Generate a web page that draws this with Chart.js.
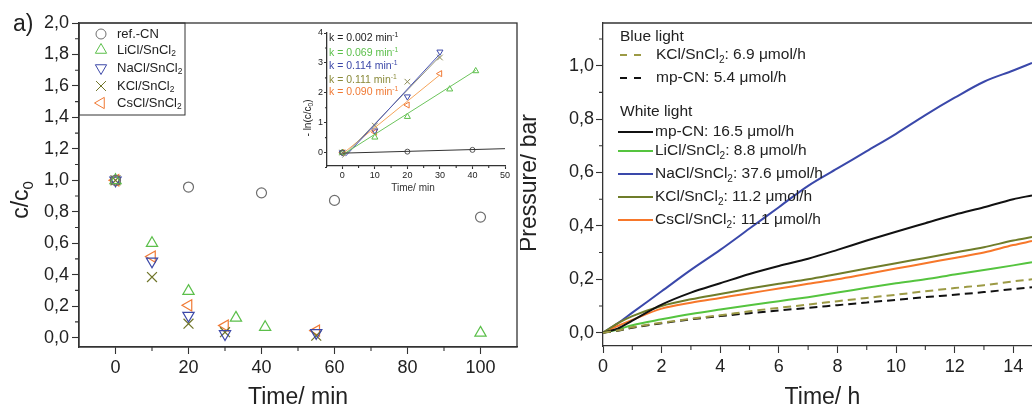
<!DOCTYPE html>
<html lang="en">
<head>
<meta charset="UTF-8" />
<title>Photocatalytic degradation and H2 evolution</title>
<script src="https://cdn.jsdelivr.net/npm/chart.js@4.4.1/dist/chart.umd.min.js"></script>
<style>
  html, body { margin: 0; padding: 0; background: #fff; overflow: hidden; }
  #wrap { position: relative; width: 1032px; height: 412px; }
  canvas { position: absolute; }
</style>
</head>
<body>
<div id="wrap">
  <canvas id="chartA" width="530" height="412" style="left:0;top:0"></canvas>
  <canvas id="chartB" width="512" height="412" style="left:520px;top:0"></canvas>
  <canvas id="inset" width="225" height="185" style="left:290px;top:20px"></canvas>
</div>
<script>
// ---------- panel a: c/c0 vs time ----------
const aLabels = ['ref.-CN', 'LiCl/SnCl₂', 'NaCl/SnCl₂', 'KCl/SnCl₂', 'CsCl/SnCl₂'];
const aTimeRef = [0, 20, 40, 60, 100];
const aRef = [1.0, 0.957, 0.92, 0.872, 0.766];
const aTimeLi = [0, 10, 20, 33, 41, 100];
const aLi = [1.0, 0.6, 0.295, 0.125, 0.066, 0.03];
const aTimeNa = [0, 10, 20, 30, 55];
const aNa = [1.0, 0.485, 0.14, 0.023, 0.03];
const aTimeK = [0, 10, 20, 30, 55];
const aK = [1.0, 0.385, 0.088, 0.034, 0.012];
const aTimeCs = [0, 10, 20, 30, 55];
const aCs = [1.0, 0.515, 0.205, 0.076, 0.044];
const aXTicks = [0, 20, 40, 60, 80, 100];
const aXMinor = [10, 30, 50, 70, 90];
const aYTicks = [0, 0.2, 0.4, 0.6, 0.8, 1.0, 1.2, 1.4, 1.6, 1.8, 2.0];
const aYMinor = [0.1, 0.3, 0.5, 0.7, 0.9, 1.1, 1.3, 1.5, 1.7, 1.9];

// ---------- inset: -ln(c/c0) vs time ----------
const inTimeRef = [0, 20, 40];
const inRef = [0, 0.03, 0.09];
const inTimeLi = [0, 10, 20, 33, 41];
const inLi = [0, 0.51, 1.2, 2.12, 2.73];
const inTimeNa = [0, 10, 20, 30];
const inNa = [0, 0.73, 1.87, 3.37];
const inTimeK = [0, 10, 20, 30];
const inK = [0, 0.9, 2.37, 3.18];
const inTimeCs = [0, 10, 20, 30];
const inCs = [0, 0.68, 1.59, 2.64];
// fitted lines (end points)
const fitRefT = [0, 50], fitRef = [-0.02, 0.13];
const fitLiT = [0, 41], fitLi = [-0.08, 2.75];
const fitNaT = [1, 30], fitNa = [-0.12, 3.3];
const fitKT = [0, 30], fitK = [-0.17, 3.22];
const fitCsT = [0, 30], fitCs = [-0.05, 2.6];
const kLabels = ['k = 0.002 min⁻¹', 'k = 0.069 min⁻¹', 'k = 0.114 min⁻¹', 'k = 0.111 min⁻¹', 'k = 0.090 min⁻¹'];
const inXTicks = [0, 10, 20, 30, 40, 50];
const inXMinor = [5, 15, 25, 35, 45];
const inYTicks = [0, 1, 2, 3, 4];
const inYMinor = [-0.5, 0.5, 1.5, 2.5, 3.5];

// ---------- panel b: pressure vs time ----------
const tHours = [0, 0.5, 1, 2, 3, 4, 5, 6, 7, 8, 9, 10, 11, 12, 13, 14, 14.64];
const blueKCl = [0, 0.008, 0.02, 0.037, 0.052, 0.065, 0.08, 0.093, 0.105, 0.118, 0.13, 0.142, 0.155, 0.167, 0.178, 0.192, 0.2];
const blueMpCN = [0, 0.007, 0.018, 0.035, 0.05, 0.062, 0.073, 0.083, 0.093, 0.103, 0.113, 0.123, 0.133, 0.142, 0.152, 0.163, 0.17];
const whiteMpCN = [0, 0.015, 0.045, 0.105, 0.15, 0.185, 0.22, 0.25, 0.277, 0.31, 0.345, 0.378, 0.41, 0.442, 0.47, 0.5, 0.514];
const whiteLi = [0, 0.012, 0.028, 0.05, 0.07, 0.087, 0.103, 0.118, 0.133, 0.15, 0.168, 0.185, 0.2, 0.218, 0.235, 0.252, 0.264];
const whiteNa = [0, 0.035, 0.075, 0.155, 0.235, 0.31, 0.39, 0.47, 0.55, 0.615, 0.68, 0.745, 0.815, 0.88, 0.94, 0.982, 1.01];
const whiteK = [0, 0.035, 0.062, 0.1, 0.125, 0.145, 0.165, 0.183, 0.2, 0.22, 0.24, 0.26, 0.28, 0.3, 0.32, 0.345, 0.358];
const whiteCs = [0, 0.025, 0.048, 0.09, 0.112, 0.13, 0.148, 0.165, 0.183, 0.2, 0.22, 0.24, 0.26, 0.28, 0.3, 0.328, 0.343];
const bLabels = ['KCl/SnCl₂: 6.9 μmol/h', 'mp-CN: 5.4 μmol/h', 'mp-CN: 16.5 μmol/h', 'LiCl/SnCl₂: 8.8 μmol/h',
                 'NaCl/SnCl₂: 37.6 μmol/h', 'KCl/SnCl₂: 11.2 μmol/h', 'CsCl/SnCl₂: 11.1 μmol/h'];
const bXTicks = [0, 2, 4, 6, 8, 10, 12, 14];
const bXMinor = [1, 3, 5, 7, 9, 11, 13];
const bYTicks = [0, 0.2, 0.4, 0.6, 0.8, 1.0];
const bYMinor = [0.1, 0.3, 0.5, 0.7, 0.9, 1.1];

const FONT = "'Liberation Sans', Arial, sans-serif";
const AXIS = '#333';
const C_REF = '#6e6e6e', C_LI = '#5bbf4a', C_NA = '#3c48a8', C_K = '#6f7428', C_CS = '#f07a35';

const pts = (xs, ys) => xs.map((x, i) => ({ x: x, y: ys[i] }));
const comma = v => v.toFixed(1).replace('.', ',');

// text with subscript / superscript characters drawn small
const SUB = { '₀': '0', '₂': '2' }, SUP = { '⁻': '-', '¹': '1' };
function richText(ctx, str, x, y, size, align, color) {
  const parts = [];
  for (const ch of str) {
    const mode = SUB[ch] ? 1 : SUP[ch] ? 2 : 0;
    const c = SUB[ch] || SUP[ch] || ch;
    const last = parts[parts.length - 1];
    if (last && last.mode === mode) last.t += c; else parts.push({ t: c, mode: mode });
  }
  ctx.textBaseline = 'middle';
  ctx.textAlign = 'left';
  let w = 0;
  parts.forEach(p => {
    p.size = p.mode ? size * 0.65 : size;
    ctx.font = p.size + 'px ' + FONT;
    p.w = ctx.measureText(p.t).width;
    w += p.w;
  });
  let cx = align === 'center' ? x - w / 2 : align === 'right' ? x - w : x;
  ctx.fillStyle = color || '#222';
  parts.forEach(p => {
    ctx.font = p.size + 'px ' + FONT;
    const dy = p.mode === 1 ? size * 0.32 : p.mode === 2 ? -size * 0.3 : 0;
    ctx.fillText(p.t, cx, y + dy);
    cx += p.w;
  });
}
function vText(ctx, str, x, y, size) {
  ctx.save();
  ctx.translate(x, y);
  ctx.rotate(-Math.PI / 2);
  richText(ctx, str, 0, 0, size, 'center');
  ctx.restore();
}
function minorTicks(chart, axis, values, len) {
  const s = chart.scales[axis], a = chart.chartArea, ctx = chart.ctx;
  ctx.save();
  ctx.strokeStyle = AXIS;
  ctx.lineWidth = 1.1;
  ctx.beginPath();
  values.forEach(v => {
    const p = s.getPixelForValue(v);
    if (axis === 'x') { ctx.moveTo(p, a.bottom); ctx.lineTo(p, a.bottom + len); }
    else { ctx.moveTo(a.left - len, p); ctx.lineTo(a.left, p); }
  });
  ctx.stroke();
  ctx.restore();
}
function axisOpts(min, max, ticks, fmt, size, tickLen, pad, fit) {
  return {
    type: 'linear', min: min, max: max,
    afterBuildTicks: s => { s.ticks = ticks.map(v => ({ value: v })); },
    afterFit: fit,
    border: { color: AXIS, width: 1.3 },
    grid: { drawOnChartArea: false, drawTicks: true, tickLength: tickLen, tickColor: AXIS, tickWidth: 1.1 },
    ticks: { autoSkip: false, maxRotation: 0, padding: pad, color: '#222', font: { family: FONT, size: size }, callback: fmt }
  };
}

// ---------- chart a ----------
const aStyles = [
  { data: pts(aTimeRef, aRef), style: 'circle', rot: 0, r: 5, color: C_REF },
  { data: pts(aTimeLi, aLi), style: 'triangle', rot: 0, r: 6.5, color: C_LI },
  { data: pts(aTimeNa, aNa), style: 'triangle', rot: 180, r: 6.5, color: C_NA },
  { data: pts(aTimeK, aK), style: 'crossRot', rot: 0, r: 7, color: C_K },
  { data: pts(aTimeCs, aCs), style: 'triangle', rot: 270, r: 6.5, color: C_CS }
];

const panelA = {
  id: 'panelA',
  afterDraw(chart) {
    const ctx = chart.ctx, a = chart.chartArea;
    minorTicks(chart, 'x', aXMinor, 4);
    minorTicks(chart, 'y', aYMinor, 4);
    ctx.save();
    ctx.strokeStyle = AXIS;
    ctx.lineWidth = 1.3;
    ctx.strokeRect(a.left, a.top, a.right - a.left, a.bottom - a.top);
    // legend box
    ctx.lineWidth = 1;
    ctx.strokeRect(a.left, a.top, 106, 92);
    aStyles.forEach((s, i) => {
      const y = [34, 50, 68, 86, 103][i];
      ctx.strokeStyle = s.color;
      ctx.fillStyle = 'rgba(0,0,0,0)';
      Chart.helpers.drawPoint(ctx, { pointStyle: s.style, rotation: s.rot, radius: s.r, borderWidth: 1.2 }, a.left + 22, y);
      richText(ctx, aLabels[i], a.left + 38, y, 13, 'left', '#222');
    });
    richText(ctx, 'a)', 13, 25, 23, 'left', '#222');
    vText(ctx, 'c/c₀', 22, 200, 23);
    richText(ctx, 'Time/ min', (a.left + a.right) / 2, 398, 23, 'center', '#222');
    ctx.restore();
  }
};

new Chart(document.getElementById('chartA'), {
  type: 'scatter',
  data: {
    datasets: aStyles.map((s, i) => ({
      label: aLabels[i], data: s.data, pointStyle: s.style, pointRotation: s.rot,
      pointRadius: s.r, borderColor: s.color, backgroundColor: 'rgba(0,0,0,0)', borderWidth: 1.2
    }))
  },
  options: {
    responsive: false, animation: false, devicePixelRatio: 1,
    layout: { padding: { top: 23, right: 13, left: 0, bottom: 0 } },
    plugins: { legend: { display: false }, tooltip: { enabled: false } },
    scales: {
      x: axisOpts(-10, 110, aXTicks, v => String(v), 18, 7, 3, s => { s.height = 65; }),
      y: axisOpts(-0.06, 2.0, aYTicks, comma, 18, 7, 3, s => { s.width = 79; })
    }
  },
  plugins: [panelA]
});

// ---------- inset ----------
const inMarks = [
  { data: pts(inTimeRef, inRef), fit: pts(fitRefT, fitRef), style: 'circle', rot: 0, r: 2.5, color: '#555', line: '#333' },
  { data: pts(inTimeLi, inLi), fit: pts(fitLiT, fitLi), style: 'triangle', rot: 0, r: 3.5, color: C_LI, line: '#6cc45c' },
  { data: pts(inTimeNa, inNa), fit: pts(fitNaT, fitNa), style: 'triangle', rot: 180, r: 3.5, color: C_NA, line: '#4a55b5' },
  { data: pts(inTimeK, inK), fit: pts(fitKT, fitK), style: 'crossRot', rot: 0, r: 4, color: '#8a8a55', line: '#8f8f7a' },
  { data: pts(inTimeCs, inCs), fit: pts(fitCsT, fitCs), style: 'triangle', rot: 270, r: 3.5, color: C_CS, line: '#f5a45a' }
];
const kColors = ['#222', '#5bbf4a', '#3c48a8', '#8a8a3a', '#f07a35'];

const insetDeco = {
  id: 'insetDeco',
  afterDraw(chart) {
    const ctx = chart.ctx;
    minorTicks(chart, 'x', inXMinor, 2);
    minorTicks(chart, 'y', inYMinor, 2);
    ctx.save();
    kLabels.forEach((t, i) => richText(ctx, t, 39, [18.5, 33, 46.5, 60, 72.5][i], 10.5, 'left', kColors[i]));
    vText(ctx, '- ln(c/c₀)', 18, 98, 10);
    richText(ctx, 'Time/ min', 123, 168, 10, 'center', '#333');
    ctx.restore();
  }
};

const inDatasets = [];
inMarks.forEach(m => {
  inDatasets.push({ type: 'line', data: m.fit, borderColor: m.line, borderWidth: 1, pointRadius: 0, showLine: true });
});
inMarks.forEach(m => {
  inDatasets.push({ data: m.data, pointStyle: m.style, pointRotation: m.rot, pointRadius: m.r,
    borderColor: m.color, backgroundColor: 'rgba(0,0,0,0)', borderWidth: 1 });
});

new Chart(document.getElementById('inset'), {
  type: 'scatter',
  data: { datasets: inDatasets },
  options: {
    responsive: false, animation: false, devicePixelRatio: 1,
    layout: { padding: { top: 13, right: 10, left: 0, bottom: 0 } },
    plugins: { legend: { display: false }, tooltip: { enabled: false } },
    scales: {
      x: axisOpts(-4.7, 50, inXTicks, v => String(v), 9, 3, 1, s => { s.height = 39; }),
      y: axisOpts(-0.45, 4, inYTicks, v => String(v), 9, 3, 1, s => { s.width = 37; })
    }
  },
  plugins: [insetDeco]
});

// ---------- chart b ----------
const bSeries = [
  { y: blueKCl, color: '#9c9a45', dash: [8, 5] },
  { y: blueMpCN, color: '#111', dash: [8, 5] },
  { y: whiteMpCN, color: '#111', dash: [] },
  { y: whiteLi, color: '#55c43f', dash: [] },
  { y: whiteK, color: '#6f7d2a', dash: [] },
  { y: whiteCs, color: '#f7772a', dash: [] },
  { y: whiteNa, color: '#3a48aa', dash: [] }
];
const bOrder = [0, 1, 2, 3, 6, 4, 5]; // legend order: which series goes with bLabels[i]

const panelB = {
  id: 'panelB',
  afterDraw(chart) {
    const ctx = chart.ctx, a = chart.chartArea;
    minorTicks(chart, 'x', bXMinor, 4);
    minorTicks(chart, 'y', bYMinor, 4);
    ctx.save();
    ctx.strokeStyle = AXIS;
    ctx.lineWidth = 1.3;
    ctx.beginPath();
    ctx.moveTo(a.left, a.top);
    ctx.lineTo(a.right, a.top);
    ctx.stroke();
    const x0 = a.left;
    richText(ctx, 'Blue light', x0 + 17, 37, 15.5, 'left', '#222');
    richText(ctx, 'White light', x0 + 17, 112, 15.5, 'left', '#222');
    const ys = [55, 78, 132, 151, 174, 197, 220];
    bLabels.forEach((t, i) => {
      const s = bSeries[bOrder[i]];
      ctx.strokeStyle = s.color;
      ctx.lineWidth = 2;
      ctx.setLineDash(s.dash.length ? [7, 7] : []);
      ctx.beginPath();
      ctx.moveTo(x0 + (s.dash.length ? 17 : 15), ys[i]);
      ctx.lineTo(x0 + (s.dash.length ? 41 : 50), ys[i]);
      ctx.stroke();
      ctx.setLineDash([]);
      richText(ctx, t, x0 + (s.dash.length ? 53 : 52), ys[i], 15.5, 'left', '#222');
    });
    richText(ctx, 'b)', 553, 27, 23, 'left', '#222');
    vText(ctx, 'Pressure/ bar', 10, 183, 23);
    richText(ctx, 'Time/ h', (a.left + a.right) / 2 + 5, 398, 23, 'center', '#222');
    ctx.restore();
  }
};

new Chart(document.getElementById('chartB'), {
  type: 'line',
  data: {
    datasets: bSeries.map((s, i) => ({
      data: pts(tHours, s.y), borderColor: s.color, borderWidth: 2, borderDash: s.dash,
      pointRadius: 0, cubicInterpolationMode: 'monotone', fill: false
    }))
  },
  options: {
    responsive: false, animation: false, devicePixelRatio: 1,
    layout: { padding: { top: 23, right: 0, left: 0, bottom: 0 } },
    plugins: { legend: { display: false }, tooltip: { enabled: false } },
    scales: {
      x: axisOpts(0, 14.64, bXTicks, v => String(v), 18, 7, 3, s => { s.height = 66; }),
      y: axisOpts(-0.05, 1.16, bYTicks, comma, 18, 7, 2, s => { s.width = 83; })
    }
  },
  plugins: [panelB]
});
</script>
</body>
</html>
